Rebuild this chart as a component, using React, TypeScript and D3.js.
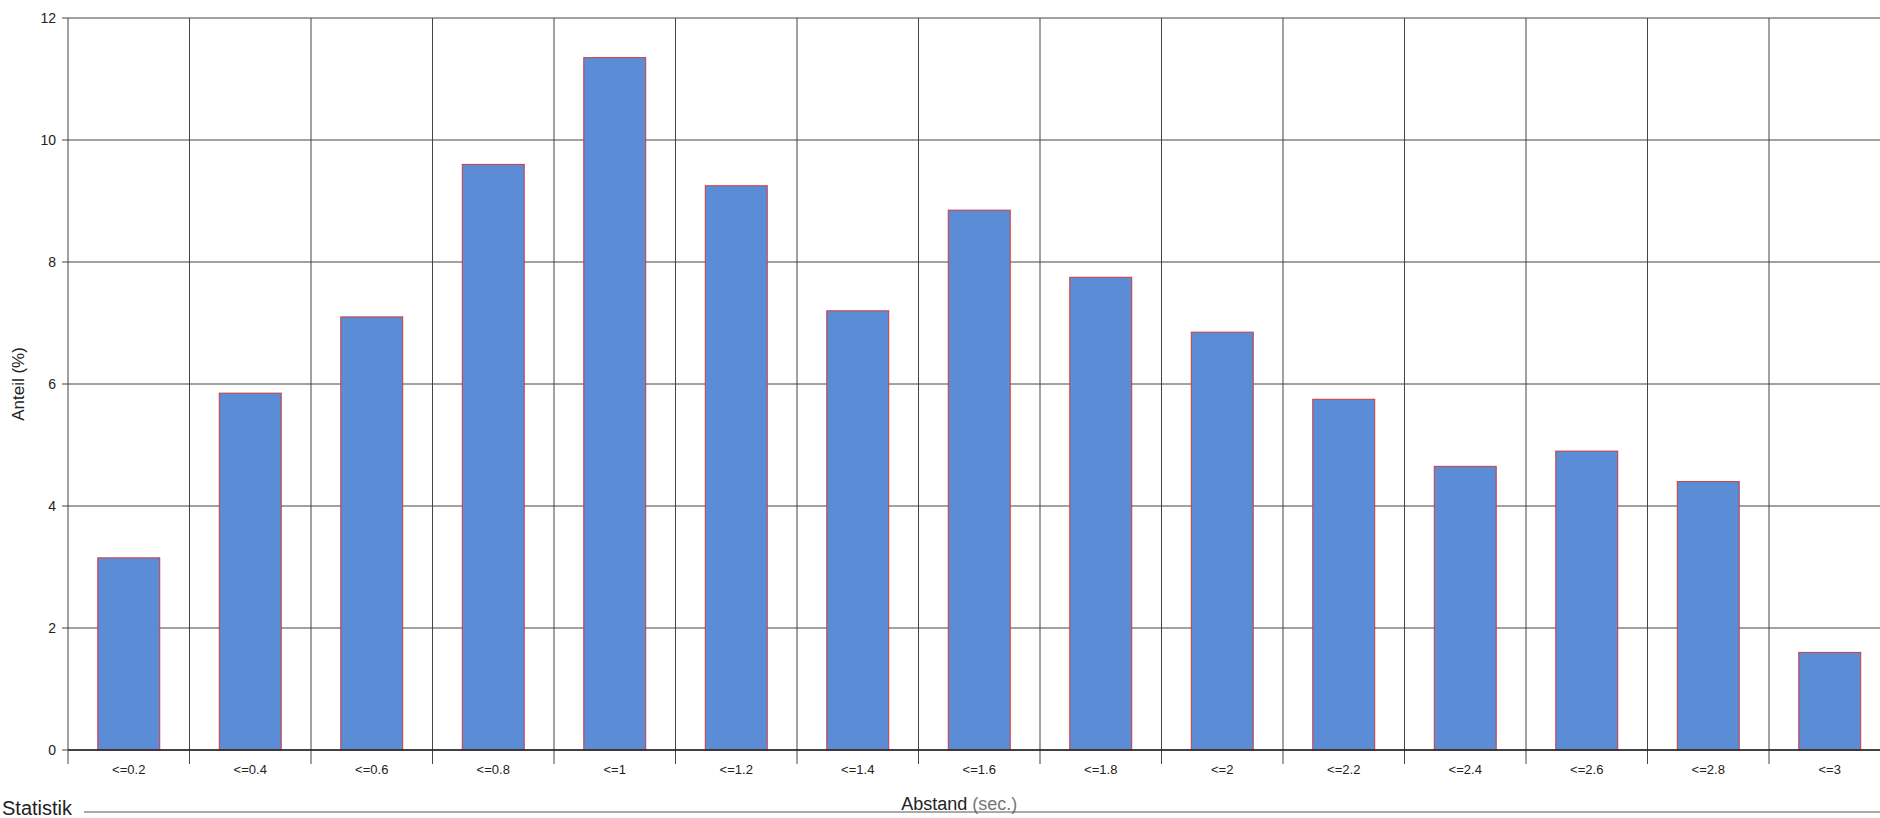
import React from 'react'
import * as d3 from 'd3'

const categories = ['<=0.2', '<=0.4', '<=0.6', '<=0.8', '<=1', '<=1.2', '<=1.4', '<=1.6', '<=1.8', '<=2', '<=2.2', '<=2.4', '<=2.6', '<=2.8', '<=3']
const values = [3.15, 5.85, 7.1, 9.6, 11.35, 9.25, 7.2, 8.85, 7.75, 6.85, 5.75, 4.65, 4.9, 4.4, 1.6]
const yTicks = [0, 2, 4, 6, 8, 10, 12]

const App = () => {
  const left = 68, top = 18, bottom = 750
  const band = 121.5
  const x = d3.scaleBand<string>().domain(categories).range([left, left + band * categories.length]).paddingInner(0.49).paddingOuter(0.245)
  const y = d3.scaleLinear().domain([0, 12]).range([bottom, top])
  const right = left + band * categories.length
  const font = 'Liberation Sans, Arial, sans-serif'
  return (
    <svg width={1880} height={818} style={{ position: 'absolute', left: 0, top: 0, background: '#fff' }} fontFamily={font}>
      {yTicks.map(t => (
        <g key={t}>
          <line x1={left - 6} x2={right} y1={y(t)} y2={y(t)} stroke="#444" strokeWidth={1} />
          <text x={left - 12} y={y(t) + 5} fontSize={14} textAnchor="end" fill="#222">{t}</text>
        </g>
      ))}
      {d3.range(categories.length + 1).map(i => (
        <line key={i} x1={left + i * band} x2={left + i * band} y1={top} y2={bottom + 14} stroke="#444" strokeWidth={1} />
      ))}
      {categories.map((c, i) => (
        <g key={c}>
          <rect x={x(c)} y={y(values[i])} width={x.bandwidth()} height={bottom - y(values[i])} fill="#5b8dd6" stroke="#d0383c" strokeWidth={1} />
          <text x={x(c)! + x.bandwidth() / 2} y={bottom + 24} fontSize={13} textAnchor="middle" fill="#222">{c}</text>
        </g>
      ))}
      <line x1={left} x2={right} y1={bottom} y2={bottom} stroke="#222" strokeWidth={1.5} />
      <text transform={`translate(24,${(top + bottom) / 2}) rotate(-90)`} fontSize={17} textAnchor="middle" fill="#222">Anteil (%)</text>
      <text x={(left + right) / 2 - 20} y={810} fontSize={18} textAnchor="middle" fill="#222">Abstand <tspan fill="#777">(sec.)</tspan></text>
      <text x={2} y={815} fontSize={20} fill="#222">Statistik</text>
      <line x1={84} x2={1880} y1={812} y2={812} stroke="#555" strokeWidth={1} />
    </svg>
  )
}

export default App
